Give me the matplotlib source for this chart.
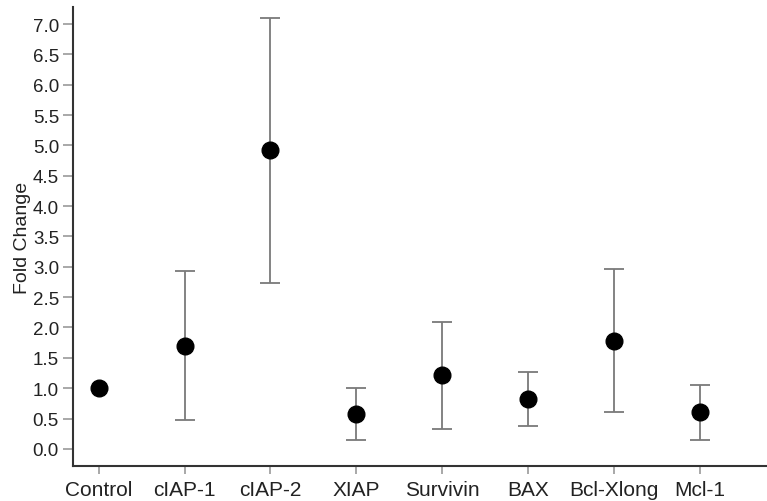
import matplotlib.pyplot as plt
import numpy as np

plt.rcParams['font.family'] = ['Liberation Sans', 'DejaVu Sans']

genes = ['Control', 'cIAP-1', 'cIAP-2', 'XIAP', 'Survivin', 'BAX', 'Bcl-Xlong', 'Mcl-1']
fold_change = [1.0, 1.70, 4.93, 0.57, 1.21, 0.82, 1.78, 0.60]
upper = [1.0, 2.93, 7.10, 1.00, 2.09, 1.26, 2.96, 1.05]
lower = [1.0, 0.47, 2.73, 0.14, 0.32, 0.37, 0.60, 0.15]

fig = plt.figure(figsize=(7.67, 5.02), dpi=100)
ax = fig.add_axes([0.095, 0.07, 0.905, 0.914])

x = np.arange(len(genes))
y = np.array(fold_change)
yerr = [y - np.array(lower), np.array(upper) - y]

# error bars drawn without control (no spread)
ax.errorbar(x[1:], y[1:], yerr=[yerr[0][1:], yerr[1][1:]], fmt='none',
            ecolor='#7a7a7a', elinewidth=1.3, capsize=7.5, capthick=1.3, zorder=2)
ax.plot(x, y, 'o', color='black', markersize=12, zorder=3)

ax.set_xlim(-0.3, 7.78)
ax.set_ylim(-0.28, 7.28)
ax.set_yticks(np.arange(0, 7.01, 0.5))
ax.set_yticklabels([f'{v:.1f}' for v in np.arange(0, 7.01, 0.5)], fontsize=13.5, color='#222222')
ax.set_xticks(x)
ax.set_xticklabels(genes, fontsize=15, color='#222222')
ax.set_ylabel('Fold Change', fontsize=14, labelpad=1, color='#222222')

for s in ['top', 'right']:
    ax.spines[s].set_visible(False)
for s in ['left', 'bottom']:
    ax.spines[s].set_linewidth(1.5)
    ax.spines[s].set_color('#333333')

ax.tick_params(axis='y', length=7, width=1.2, color='#999999', pad=3)
ax.tick_params(axis='x', length=6, width=1.2, color='#999999', pad=4)

fig.savefig('out.png', dpi=100)
